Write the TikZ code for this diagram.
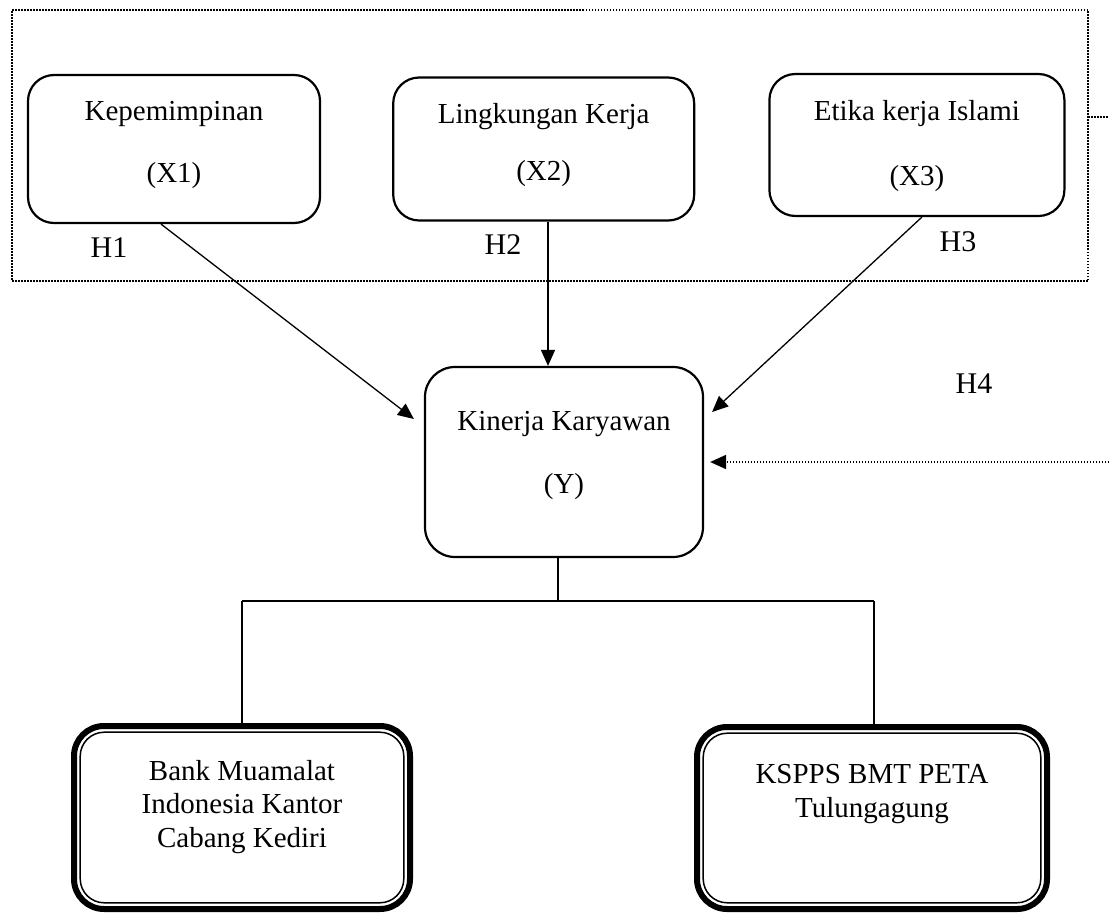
\documentclass[tikz,border=0pt]{standalone}
\usepackage{fontspec}
\setmainfont{Liberation Serif}
\usetikzlibrary{positioning,arrows.meta}

\tikzset{
  varbox/.style={draw, line width=2.2pt, rounded corners=26pt, inner sep=0pt,
    align=center, font=\fontsize{29}{33.5}\selectfont},
  orgbox/.style={draw, line width=6pt, rounded corners=30pt, inner sep=0pt,
    outer sep=0pt, align=center, font=\fontsize{29}{33.5}\selectfont},
  hlabel/.style={font=\fontsize{30}{34}\selectfont, inner sep=0pt},
  dotline/.style={line width=1.8pt, dash pattern=on 1.5pt off 1.5pt},
}

\begin{document}
\begin{tikzpicture}[x=1pt, y=-1pt, line width=1.3pt,
      >={Triangle[length=16pt,width=14pt]}]
  \useasboundingbox (0,0) rectangle (1109,913);

  % dotted frame round the three variables
  \node[draw, dotline, minimum width=1076pt, minimum height=271pt,
        inner sep=0pt, outer sep=0pt] (frame) at (550,145.5) {};

  \node[varbox, minimum width=292pt, text height=107pt, text depth=41pt]
        (x1) at (174,149) {Kepemimpinan\\[28.5pt](X1)};
  \node[varbox, minimum width=301pt, text height=103pt, text depth=40pt,
        right=71pt of x1] (x2) {Lingkungan Kerja\\[23.5pt](X2)};
  \node[varbox, minimum width=295pt, text height=111pt, text depth=31pt,
        right=73pt of x2, yshift=4pt] (x3) {Etika kerja Islami\\[31.5pt](X3)};

  \node[varbox, rounded corners=30pt, minimum width=278pt, text height=126pt,
        text depth=64pt] (ky) at (564,462) {Kinerja Karyawan\\[29.5pt](Y)};

  \node[orgbox, minimum width=336pt, text height=121pt, text depth=62pt]
        (bmi) at (242,817.5) {Bank Muamalat\\Indonesia Kantor\\Cabang Kediri};
  \node[orgbox, minimum width=350pt, text height=90pt, text depth=92pt]
        (kspps) at (872,818) {KSPPS BMT PETA\\Tulungagung};
  \draw[line width=1.5pt, rounded corners=24pt]
    ([shift={(6.2,6.2)}]bmi.north west) rectangle ([shift={(-6.2,-6.2)}]bmi.south east);
  \draw[line width=1.5pt, rounded corners=24pt]
    ([shift={(6.2,6.2)}]kspps.north west) rectangle ([shift={(-6.2,-6.2)}]kspps.south east);

  \node[hlabel] (h1) at (109,248) {H1};
  \node[hlabel] (h2) at (503,245) {H2};
  \node[hlabel] (h3) at (958,242) {H3};
  \node[hlabel] (h4) at (974,384) {H4};

  \coordinate (grpout) at (1109,117);
  \coordinate (h4src) at (1109,462);
  \coordinate (split) at (558,601);

  % Connect the nodes
  \draw[->] ([xshift=-13pt]x1.south) -- ([xshift=-10pt,yshift=43pt]ky.west);
  \draw[->] ([xshift=4.3pt]x2.south) -- ([xshift=4.3pt]x2.south |- ky.north);
  \draw[->] ([xshift=5pt]x3.south) -- ([xshift=8pt,yshift=50pt]ky.east);
  \draw[dotline] ([yshift=28.5pt]frame.east) -- (grpout);
  \draw[dotline, ->] (h4src) -- ([xshift=6pt]ky.east);

  \draw[line width=1.5pt] ([xshift=-6pt]ky.south) -- (split);
  \draw[line width=1.5pt] (bmi.north |- split) -- ([xshift=2pt]kspps.north |- split);
  \draw[line width=1.5pt] (bmi.north |- split) -- (bmi.north);
  \draw[line width=1.5pt] ([xshift=2pt]kspps.north |- split) -- ([xshift=2pt]kspps.north);
\end{tikzpicture}
\end{document}
